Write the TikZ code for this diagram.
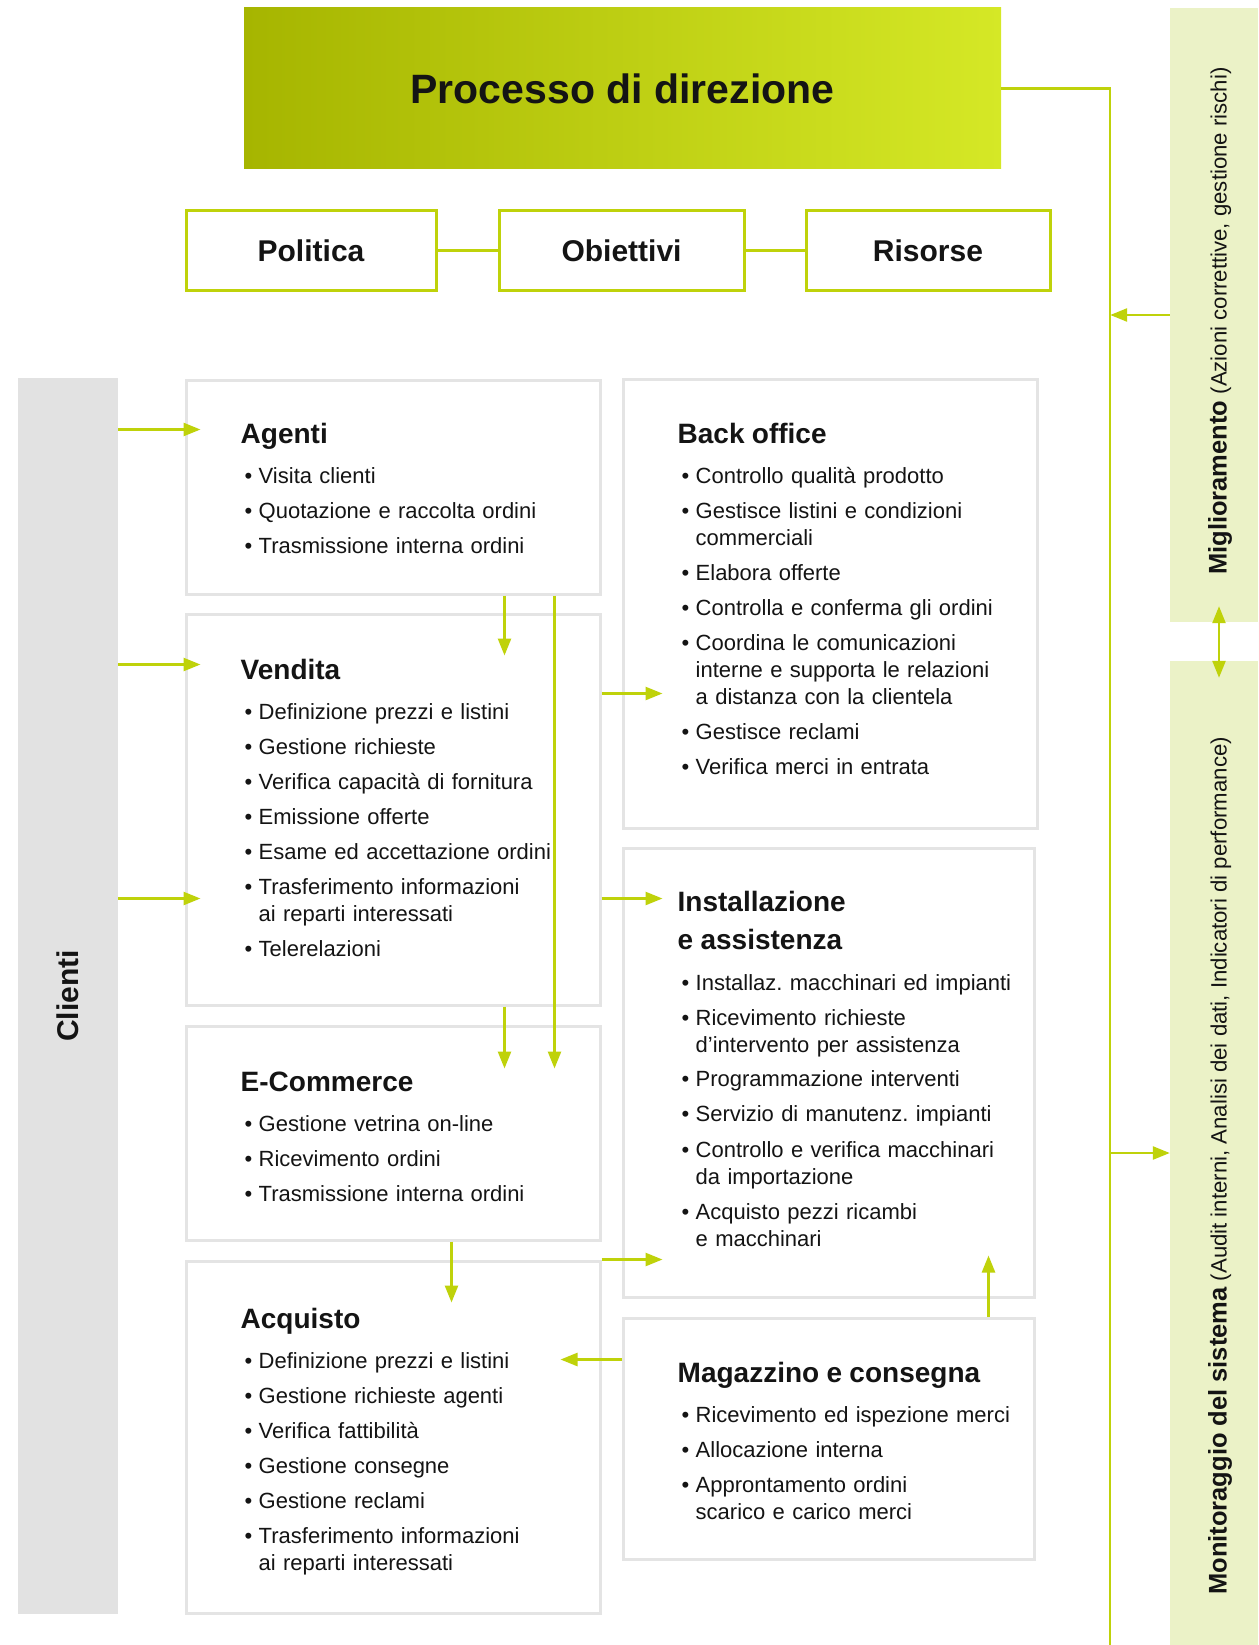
\documentclass[tikz,border=0pt]{standalone}
\usepackage{fontspec}
\setmainfont{Liberation Sans}
\usetikzlibrary{arrows.meta,calc}

\definecolor{verdelime}{HTML}{BFD20A}
\definecolor{limescuro}{HTML}{A6B500}
\definecolor{limechiaro}{HTML}{D5E826}
\definecolor{verdechiaro}{HTML}{EBF2C7}
\definecolor{grigiobordo}{HTML}{E4E4E4}
\definecolor{grigiofascia}{HTML}{E2E2E2}
\definecolor{testo}{HTML}{141414}

\newcommand{\testata}[1]{{\fontsize{28}{38}\selectfont\bfseries #1\par}\vspace{5pt}}
\newcommand{\voce}[1]{\noindent\hangindent=18pt\hangafter=1\hspace*{4pt}\makebox[14pt][l]{\textbullet}#1\par}
\frenchspacing

\begin{document}
\begin{tikzpicture}[x=1pt,y=-1pt,
    every node/.style={inner sep=0pt, text=testo},
    freccia/.style={draw=verdelime, line width=2.5pt, -{Triangle[length=17pt,width=13pt]}},
    linea/.style={draw=verdelime, line width=2.5pt},
    riquadro/.style={draw=grigiobordo, line width=3pt, fill=white, minimum width=414pt},
    primo/.style={draw=verdelime, line width=3pt, fill=white, minimum height=79pt, font=\fontsize{30}{36}\selectfont\bfseries},
    fascia/.style={fill=verdechiaro, minimum width=88pt},
    contenuto/.style={anchor=north west, text width=350pt, align=left, font=\fontsize{22}{27}\selectfont\frenchspacing, execute at begin node={\setlength{\parskip}{8pt}}},
    verticale/.style={rotate=90, anchor=west, font=\fontsize{22.2}{27}\selectfont}]
    \useasboundingbox (0,0) rectangle (1258,1645);

    \node [left color=limescuro, right color=limechiaro, minimum width=757pt, minimum height=161pt, font=\fontsize{41}{48}\selectfont\bfseries] (direzione) at (622.5,88.5) {Processo di direzione};

    \node [primo, minimum width=250pt] (politica) at (311,250.5) {Politica};
    \node [primo, minimum width=245pt] (obiettivi) at (621.5,250.5) {Obiettivi};
    \node [primo, minimum width=244pt] (risorse) at (928,250.5) {Risorse};
    \draw [linea, line width=3pt] (politica.east) -- (obiettivi.west);
    \draw [linea, line width=3pt] (obiettivi.east) -- (risorse.west);

    \node [fascia, minimum height=614pt] (migl) at (1214,315) {};
    \node [fascia, minimum height=984pt] (monit) at (1214,1153) {};
    \node [verticale] (tmigl) at (1220,575) {{\fontsize{25.5}{30}\selectfont\bfseries Miglioramento} (Azioni correttive, gestione rischi)};
    \node [verticale] (tmonit) at (1220,1595) {{\fontsize{25.5}{30}\selectfont\bfseries Monitoraggio del sistema} (Audit interni, Analisi dei dati, Indicatori di performance)};

    \node [fill=grigiofascia, minimum width=100pt, minimum height=1236pt] (clienti) at (68,996) {};
    \node [rotate=90, font=\fontsize{30}{36}\selectfont\bfseries] (tclienti) at (clienti) {Clienti};

    \node [riquadro, minimum height=214pt] (agenti) at (393,487) {};
    \node [riquadro, minimum height=391pt] (vendita) at (393,809.5) {};
    \node [riquadro, minimum height=214pt] (ecommerce) at (393,1133) {};
    \node [riquadro, minimum height=352pt] (acquisto) at (393,1437) {};
    \node [riquadro, minimum height=449pt] (backoffice) at (830,603.5) {};
    \node [riquadro, minimum width=411pt, minimum height=449pt] (installazione) at (828.5,1072.5) {};
    \node [riquadro, minimum width=411pt, minimum height=241pt] (magazzino) at (828.5,1438.5) {};

    \node [contenuto] (tagenti) at ($(agenti.north west)+(56,45)$) {\testata{Agenti}
        \voce{Visita clienti}
        \voce{Quotazione e raccolta ordini}
        \voce{Trasmissione interna ordini}};
    \node [contenuto] (tvendita) at ($(vendita.north west)+(56,47)$) {\testata{Vendita}
        \voce{Definizione prezzi e listini}
        \voce{Gestione richieste}
        \voce{Verifica capacità di fornitura}
        \voce{Emissione offerte}
        \voce{Esame ed accettazione ordini}
        \voce{Trasferimento informazioni\newline ai reparti interessati}
        \voce{Telerelazioni}};
    \node [contenuto] (tecommerce) at ($(ecommerce.north west)+(56,47)$) {\testata{E-Commerce}
        \voce{Gestione vetrina on-line}
        \voce{Ricevimento ordini}
        \voce{Trasmissione interna ordini}};
    \node [contenuto] (tacquisto) at ($(acquisto.north west)+(56,48)$) {\testata{Acquisto}
        \voce{Definizione prezzi e listini}
        \voce{Gestione richieste agenti}
        \voce{Verifica fattibilità}
        \voce{Gestione consegne}
        \voce{Gestione reclami}
        \voce{Trasferimento informazioni\newline ai reparti interessati}};
    \node [contenuto] (tbackoffice) at ($(backoffice.north west)+(56,46)$) {\testata{Back office}
        \voce{Controllo qualità prodotto}
        \voce{Gestisce listini e condizioni\newline commerciali}
        \voce{Elabora offerte}
        \voce{Controlla e conferma gli ordini}
        \voce{Coordina le comunicazioni\newline interne e supporta le relazioni\newline a distanza con la clientela}
        \voce{Gestisce reclami}
        \voce{Verifica merci in entrata}};
    \node [contenuto] (tinstallazione) at ($(installazione.north west)+(56,45)$) {\testata{Installazione\\e assistenza}
        \voce{Installaz. macchinari ed impianti}
        \voce{Ricevimento richieste\newline d’intervento per assistenza}
        \voce{Programmazione interventi}
        \voce{Servizio di manutenz. impianti}
        \voce{Controllo e verifica macchinari\newline da importazione}
        \voce{Acquisto pezzi ricambi\newline e macchinari}};
    \node [contenuto] (tmagazzino) at ($(magazzino.north west)+(56,45)$) {\testata{Magazzino e consegna}
        \voce{Ricevimento ed ispezione merci}
        \voce{Allocazione interna}
        \voce{Approntamento ordini\newline scarico e carico merci}};

    \coordinate (angolo) at ($(direzione.east)+(109,0)$);
    \coordinate (fondo) at (angolo |- 0,1645);
    \draw [linea] (direzione.east) -- (angolo) -- (fondo);
    \draw [freccia] (migl.west) -- (migl.west -| angolo);
    \draw [freccia] (monit.west -| angolo) -- (monit.west);
    \draw [freccia, {Triangle[length=17pt,width=13pt]}-{Triangle[length=17pt,width=13pt]}] ($(migl.south)+(5,-16)$) -- ($(monit.north)+(5,17)$);

    \coordinate (ca) at ($(agenti.north west)+(16,51)$);
    \coordinate (cv1) at ($(vendita.north west)+(16,52)$);
    \coordinate (cv2) at ($(vendita.north west)+(16,286)$);
    \draw [freccia] (clienti.east |- ca) -- (ca);
    \draw [freccia] (clienti.east |- cv1) -- (cv1);
    \draw [freccia] (clienti.east |- cv2) -- (cv2);

    \draw [freccia] ($(agenti.south west)+(320,0)$) -- ($(vendita.north west)+(320,43)$);
    \draw [freccia] ($(agenti.south west)+(370,0)$) -- ($(ecommerce.north west)+(370,44)$);
    \draw [freccia] ($(vendita.south west)+(320,0)$) -- ($(ecommerce.north west)+(320,44)$);
    \draw [freccia] ($(ecommerce.south west)+(267,0)$) -- ($(acquisto.north west)+(267,43)$);

    \coordinate (vb) at ($(vendita.north east)+(0,81)$);
    \coordinate (vi) at ($(vendita.north east)+(0,286)$);
    \draw [freccia] (vb) -- ($(vb -| backoffice.west)+(41,0)$);
    \draw [freccia] (vi) -- ($(vi -| installazione.west)+(41,0)$);
    \draw [freccia] (acquisto.north east) -- ($(acquisto.north east -| installazione.west)+(41,0)$);

    \coordinate (ma) at ($(magazzino.north west)+(0,43)$);
    \draw [freccia] (ma) -- ($(ma -| acquisto.east)+(-41,0)$);
    \draw [freccia] ($(magazzino.north west)+(367,0)$) -- ($(installazione.south west)+(367,-43)$);
\end{tikzpicture}
\end{document}
